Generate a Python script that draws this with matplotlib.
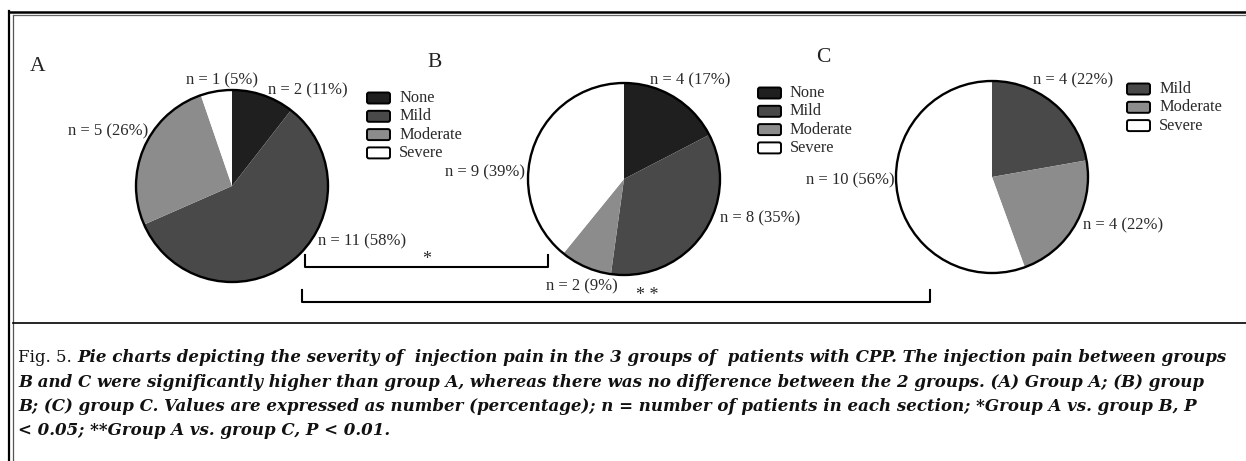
import matplotlib.pyplot as plt
from matplotlib.patches import Circle, FancyBboxPatch

# data
groups = ['A', 'B', 'C']
categories = ['None', 'Mild', 'Moderate', 'Severe']
counts_a = [2, 11, 5, 1]
counts_b = [4, 8, 2, 9]
counts_c = [0, 4, 4, 10]
pct_a = [11, 58, 26, 5]
pct_b = [17, 35, 9, 39]
pct_c = [0, 22, 22, 56]
colors = ['#1f1f1f', '#494949', '#8c8c8c', '#ffffff']

caption_lines = [
    ('Fig. 5. ', 'Pie charts depicting the severity of  injection pain in the 3 groups of  patients with CPP. The injection pain between groups'),
    ('', 'B and C were significantly higher than group A, whereas there was no difference between the 2 groups. (A) Group A; (B) group'),
    ('', 'B; (C) group C. Values are expressed as number (percentage); n = number of patients in each section; *Group A vs. group B, P'),
    ('', '< 0.05; **Group A vs. group C, P < 0.01.'),
]

W, H = 1246, 461
fig = plt.figure(figsize=(W / 100, H / 100), dpi=100)
ax = fig.add_axes([0, 0, 1, 1])
ax.set_xlim(0, W)
ax.set_ylim(0, H)
ax.set_aspect('equal')
ax.axis('off')


def Y(py):
    return H - py


serif = 'Liberation Serif'
tcol = '#2a2a2a'

# frame
ax.plot([9, 9], [Y(11), Y(461)], color='black', lw=1.6)
ax.plot([13, 13], [Y(15), Y(461)], color='#555555', lw=0.9)
ax.plot([9, W], [Y(12), Y(12)], color='black', lw=1.8)
ax.plot([13, W], [Y(15.5), Y(15.5)], color='#666666', lw=0.9)
ax.plot([13, W], [Y(323), Y(323)], color='black', lw=1.2)

panels = [
    # counts, pct, center, label pos, legend pos, label positions
    (counts_a, pct_a, (232, 186), (38, 67), (367, 98),
     [(308, 90), (362, 241), (108, 131), (222, 80)]),
    (counts_b, pct_b, (624, 179), (435, 63), (758, 93),
     [(690, 80), (760, 218), (582, 286), (485, 172)]),
    (counts_c, pct_c, (992, 177), (823, 58), (1127, 89),
     [None, (1073, 80), (1123, 225), (850, 180)]),
]
R = 96

for (counts, pct, cen, lab, leg, lpos), g in zip(panels, groups):
    keep = [i for i, c in enumerate(counts) if c > 0]
    ax.pie([counts[i] for i in keep], colors=[colors[i] for i in keep],
           startangle=90, counterclock=False, radius=R,
           center=(cen[0], Y(cen[1])), frame=True,
           wedgeprops=dict(linewidth=0))
    ax.add_patch(Circle((cen[0], Y(cen[1])), R, fill=False,
                        edgecolor='black', lw=1.7, zorder=5))
    ax.text(lab[0], Y(lab[1]), g, fontsize=15.5, family=serif,
            color='#222222', ha='center', va='center')
    for i in keep:
        ax.text(lpos[i][0], Y(lpos[i][1]), f'n = {counts[i]} ({pct[i]}%)',
                fontsize=12, family=serif, color=tcol,
                ha='center', va='center', zorder=6)
    # legend
    for k, i in enumerate(keep):
        yy = leg[1] + k * 18.3
        ax.add_patch(FancyBboxPatch((leg[0] + 2, Y(yy) - 3.5), 19, 7,
                                    boxstyle='round,pad=2',
                                    facecolor=colors[i], edgecolor='black',
                                    lw=1.4))
        ax.text(leg[0] + 32, Y(yy), categories[i], fontsize=11.8,
                family=serif, color=tcol, ha='left', va='center')

# significance brackets
ax.plot([305, 305, 548, 548], [Y(255), Y(267), Y(267), Y(255)],
        color='black', lw=1.5)
ax.text(427, Y(260), '*', fontsize=13, family=serif, color=tcol,
        ha='center', va='center')
ax.plot([302, 302, 930, 930], [Y(290), Y(302), Y(302), Y(290)],
        color='black', lw=1.5)
ax.text(647, Y(295), '* *', fontsize=13, family=serif, color=tcol,
        ha='center', va='center')

# caption
cap_font = 'DejaVu Serif'
y0 = 358
for j, (head, body) in enumerate(caption_lines):
    yy = Y(y0 + j * 24.3)
    x = 18
    if head:
        t = ax.text(x, yy, head, fontsize=12, family=cap_font,
                    color='#111111', ha='left', va='center')
        fig.canvas.draw()
        bb = t.get_window_extent()
        x = bb.x1
    ax.text(x, yy, body, fontsize=12, family=cap_font, style='italic',
            weight='bold', color='#111111', ha='left', va='center')

fig.savefig('out.png', dpi=100)
